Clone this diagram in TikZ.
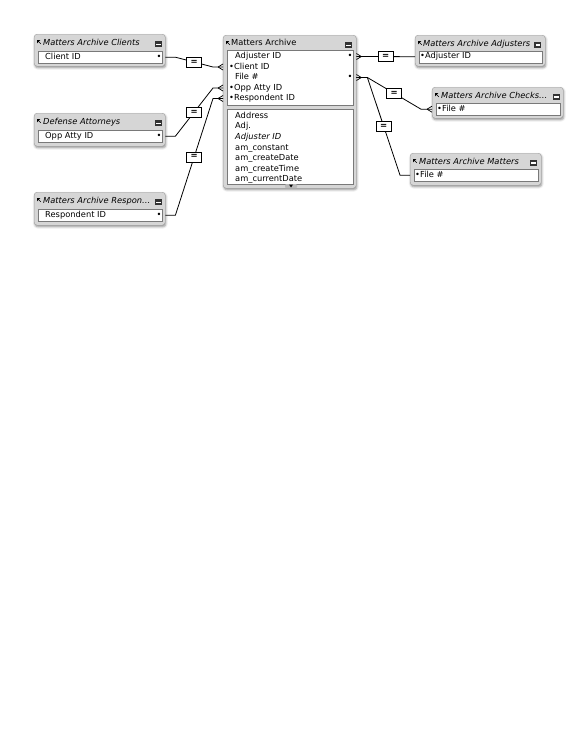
\documentclass[tikz,border=0pt]{standalone}
\usepackage{fontspec}
\setmainfont{DejaVu Sans}
\usetikzlibrary{calc, shadows.blur}

\begin{document}
\begin{tikzpicture}[x=1pt,y=-1pt,
	tbl/.style = {draw=gray!75, fill=gray!32, rounded corners=3pt, anchor=north west, inner sep=0pt,
		blur shadow={shadow xshift=0.6pt, shadow yshift=-1.5pt, shadow blur steps=4, shadow opacity=45}},
	fld/.style = {draw=gray!95!black, line width=0.4pt, fill=white, anchor=north west, inner sep=0pt},
	ttl/.style = {font=\fontsize{8.3}{9}\selectfont\itshape, anchor=west, inner sep=0pt, text height=6.2pt, text depth=1.7pt},
	row/.style = {font=\fontsize{8.3}{9}\selectfont, anchor=west, inner sep=0pt, text height=6.2pt, text depth=1.7pt},
	eq/.style = {draw, fill=white, line width=0.6pt, minimum width=15pt, minimum height=10pt, inner sep=0pt,
		font=\fontsize{8.5}{8.5}\selectfont\bfseries},
	link/.style = {line width=0.8pt},
	crow/.pic = {\draw[line width=0.7pt] (-5,0) -- (0,-3) (-5,0) -- (0,3);},
	ticon/.pic = {\fill (0,0) -- (3.4,0) -- (0,3.4) -- cycle; \draw[line width=0.6pt] (0.5,0.5) -- (3.8,3.8);},
	tbtn/.pic = {\fill[black!80] (-3.5,-3) rectangle (3.5,3); \fill[white] (-2.3,-0.4) rectangle (2.3,1.4);}]
	\useasboundingbox (0,0) rectangle (580,750);

	% main table
	\node [tbl, minimum width=133pt, minimum height=153pt] (arch) at (223,35) {};
	\node [fld, minimum width=126pt, minimum height=55pt] (archtop) at ([shift={(4,15)}]arch.north west) {};
	\node [fld, minimum width=126pt, minimum height=75pt] (archbot) at ([shift={(4,74)}]arch.north west) {};
	\pic at ([shift={(3,6)}]arch.north west) {ticon};
	\pic at ([shift={(-8,10)}]arch.north east) {tbtn};
	\node [row] (archttl) at ([shift={(8,8.5)}]arch.north west) {Matters Archive};
	\node [row] (aadj) at ([shift={(12,21.5)}]arch.north west) {Adjuster ID};
	\node [row] (acli) at ([shift={(6,32)}]arch.north west) {•Client ID};
	\node [row] (afile) at ([shift={(12,42.5)}]arch.north west) {File \#};
	\node [row] (aopp) at ([shift={(6,53)}]arch.north west) {•Opp Atty ID};
	\node [row] (aresp) at ([shift={(6,63.5)}]arch.north west) {•Respondent ID};
	\node [row] (aadjdot) at ([shift={(124.5,21.5)}]arch.north west) {•};
	\node [row] (afiledot) at ([shift={(124.5,42.5)}]arch.north west) {•};
	\node [row] (addr) at ([shift={(12,81)}]arch.north west) {Address};
	\node [row] (adj) at ([shift={(12,91.6)}]arch.north west) {Adj.};
	\node [ttl] (adjit) at ([shift={(12,102.2)}]arch.north west) {Adjuster ID};
	\node [row] (amconst) at ([shift={(12,112.8)}]arch.north west) {am\_constant};
	\node [row] (amcdate) at ([shift={(12,123.4)}]arch.north west) {am\_createDate};
	\node [row] (amctime) at ([shift={(12,134)}]arch.north west) {am\_createTime};
	\node [row] (amcurr) at ([shift={(12,144.6)}]arch.north west) {am\_currentDate};
	\node [fill=gray!55, rounded corners=1pt, minimum width=12pt, minimum height=4pt, inner sep=0pt] (scroll) at (291,186) {};
	\fill (scroll.center) ++(-2,-1.5) -- ++(4,0) -- ++(-2,3) -- cycle;

	% left tables
	\node [tbl, minimum width=131pt, minimum height=32pt] (clients) at (34,34) {};
	\node [fld, minimum width=124pt, minimum height=12pt] (clifld) at ([shift={(4,17)}]clients.north west) {};
	\pic at ([shift={(3,6)}]clients.north west) {ticon};
	\pic at ([shift={(-7,10)}]clients.north east) {tbtn};
	\node [ttl] (clittl) at ([shift={(9,9)}]clients.north west) {Matters Archive Clients};
	\node [row] (clitxt) at ([shift={(11,23)}]clients.north west) {Client ID};
	\node [row] (clidot) at ([shift={(122.5,23)}]clients.north west) {•};

	\node [tbl, minimum width=131pt, minimum height=33pt] (defense) at (34,113) {};
	\node [fld, minimum width=124pt, minimum height=12pt] (deffld) at ([shift={(4,17)}]defense.north west) {};
	\pic at ([shift={(3,6)}]defense.north west) {ticon};
	\pic at ([shift={(-7,10)}]defense.north east) {tbtn};
	\node [ttl] (defttl) at ([shift={(9,9)}]defense.north west) {Defense Attorneys};
	\node [row] (deftxt) at ([shift={(11,23)}]defense.north west) {Opp Atty ID};
	\node [row] (defdot) at ([shift={(122.5,23)}]defense.north west) {•};

	\node [tbl, minimum width=131pt, minimum height=33pt] (resp) at (34,192) {};
	\node [fld, minimum width=124pt, minimum height=12pt] (respfld) at ([shift={(4,17)}]resp.north west) {};
	\pic at ([shift={(3,6)}]resp.north west) {ticon};
	\pic at ([shift={(-7,10)}]resp.north east) {tbtn};
	\node [ttl] (respttl) at ([shift={(9,9)}]resp.north west) {Matters Archive Respon…};
	\node [row] (resptxt) at ([shift={(11,23)}]resp.north west) {Respondent ID};
	\node [row] (respdot) at ([shift={(122.5,23)}]resp.north west) {•};

	% right tables
	\node [tbl, minimum width=130pt, minimum height=31pt] (adjusters) at (415,35) {};
	\node [fld, minimum width=123pt, minimum height=12pt] (adjfld) at ([shift={(4,15.5)}]adjusters.north west) {};
	\pic at ([shift={(3,6)}]adjusters.north west) {ticon};
	\pic at ([shift={(-7.5,9.5)}]adjusters.north east) {tbtn};
	\node [ttl] (adjttl) at ([shift={(8,9)}]adjusters.north west) {Matters Archive Adjusters};
	\node [row] (adjtxt) at ([shift={(5,21.5)}]adjusters.north west) {•Adjuster ID};

	\node [tbl, minimum width=131pt, minimum height=31pt] (checks) at (432,87) {};
	\node [fld, minimum width=124pt, minimum height=12pt] (chkfld) at ([shift={(4,16)}]checks.north west) {};
	\pic at ([shift={(3,6)}]checks.north west) {ticon};
	\pic at ([shift={(-7,9.5)}]checks.north east) {tbtn};
	\node [ttl] (chkttl) at ([shift={(9,9)}]checks.north west) {Matters Archive Checks…};
	\node [row] (chktxt) at ([shift={(5,22)}]checks.north west) {•File \#};

	\node [tbl, minimum width=131pt, minimum height=32pt] (matters) at (410,153) {};
	\node [fld, minimum width=124pt, minimum height=12pt] (matfld) at ([shift={(4,16)}]matters.north west) {};
	\pic at ([shift={(3,6)}]matters.north west) {ticon};
	\pic at ([shift={(-8,9.5)}]matters.north east) {tbtn};
	\node [ttl] (matttl) at ([shift={(9,9)}]matters.north west) {Matters Archive Matters};
	\node [row] (mattxt) at ([shift={(5,22)}]matters.north west) {•File \#};

	% relationships
	\draw [link] (clients.east |- clifld) -- ++(10,0) -- node[eq]{=} ($(arch.west |- acli)+(-10,0)$) -- (arch.west |- acli);
	\draw [link] (defense.east |- deffld) -- ++(10,0) -- node[eq]{=} ($(arch.west |- aopp)+(-10,0)$) -- (arch.west |- aopp);
	\draw [link] (resp.east |- respfld) -- ++(10,0) -- node[eq]{=} ($(arch.west |- aresp)+(-10,0)$) -- (arch.west |- aresp);
	\draw [link] (arch.east |- aadj) -- node[eq]{=} (adjusters.west |- adjfld);
	\draw [link] (arch.east |- afile) -- ++(11,0) -- node[eq]{=} ($(checks.west |- chkfld)+(-11,0)$) -- (checks.west |- chkfld);
	\draw [link] (arch.east |- afile) -- ++(11,0) -- node[eq]{=} ($(matters.west |- matfld)+(-10,0)$) -- (matters.west |- matfld);
	\pic at (arch.west |- acli) {crow};
	\pic at (arch.west |- aopp) {crow};
	\pic at (arch.west |- aresp) {crow};
	\pic at (checks.west |- chkfld) {crow};
	\pic [xscale=-1] at (arch.east |- aadj) {crow};
	\pic [xscale=-1] at (arch.east |- afile) {crow};
\end{tikzpicture}
\end{document}
